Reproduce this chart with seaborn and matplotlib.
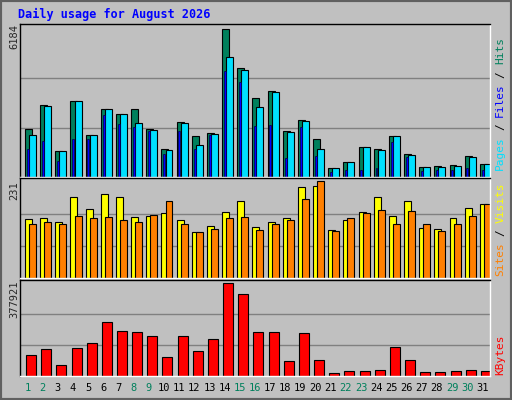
import matplotlib
matplotlib.use("Agg")
import matplotlib.pyplot as plt
import seaborn as sns
import numpy as np
import pandas as pd

days = list(range(1, 32))
weekend = [1, 2, 8, 9, 15, 16, 22, 23, 29, 30]

hits = [2010, 3022, 1082, 3162, 1757, 2853, 2642, 2853, 2010, 1167, 2305, 1715, 1841, 6184, 4540, 3317,
        3584, 1926, 2389, 1588, 365, 618, 1251, 1167, 1715, 956, 408, 450, 492, 871, 534]
files = [1757, 2980, 1082, 3162, 1757, 2853, 2642, 2263, 1968, 1124, 2263, 1335, 1799, 5003, 4497, 2937,
         3542, 1883, 2347, 1167, 365, 618, 1251, 1124, 1715, 914, 408, 408, 450, 829, 534]
pages = [1167, 1504, 661, 1588, 1588, 2600, 2221, 2094, 1926, 956, 1926, 1167, 1757, 4455, 3992, 2136,
         2178, 787, 2094, 871, 197, 281, 281, 365, 1462, 829, 239, 281, 281, 365, 281]
visits = [140, 143, 135, 193, 165, 201, 193, 145, 148, 155, 138, 110, 125, 158, 183, 123,
          133, 143, 218, 221, 115, 138, 158, 193, 148, 183, 120, 118, 143, 168, 178]
sites = [128, 135, 128, 148, 143, 145, 138, 133, 150, 183, 130, 110, 118, 143, 145, 115,
         128, 138, 188, 231, 113, 143, 155, 163, 128, 160, 128, 113, 128, 148, 178]
kbytes = [87000, 108000, 46000, 116000, 133000, 220000, 183000, 179000, 162000, 79000, 162000,
          100000, 150000, 377921, 336000, 179000, 179000, 62000, 174000, 66000, 12000, 21000,
          21000, 25000, 120000, 66000, 17000, 17000, 21000, 25000, 21000]

sns.set_style("white")
plt.rcParams['font.family'] = ['DejaVu Sans Mono']

BG = "#c0c0c0"
fig = plt.figure(figsize=(5.12, 4.0), dpi=100, facecolor=BG)
fig.patches.append(plt.Rectangle((0, 0), 1, 1, transform=fig.transFigure, fill=False,
                                 edgecolor="#606060", linewidth=3))

x = np.arange(31)


def panel(rect, vmax):
    ax = fig.add_axes(rect)
    ax.set_facecolor(BG)
    ax.set_xlim(0, 31)
    ax.set_ylim(0, vmax * 1.035)
    for g in (vmax / 3, vmax * 2 / 3):
        ax.axhline(g, color="#808080", linewidth=1, zorder=0)
    ax.set_xticks([])
    ax.set_yticks([])
    for s in ax.spines.values():
        s.set_color("black")
        s.set_linewidth(1)
    ax.spines['bottom'].set_color("white")
    ax.spines['right'].set_color("white")
    return ax


ax1 = panel([0.039, 0.5575, 0.918, 0.3825], max(hits))
ax1.bar(x + 0.33, hits, width=0.46, align="edge", color="#00805c", edgecolor="black", linewidth=0.8)
ax1.bar(x + 0.6, files, width=0.46, align="edge", color="#00e0ff", edgecolor="black", linewidth=0.8)
ax1.bar(x + 0.45, pages, width=0.13, align="edge", color="#0000ff", edgecolor="#000040", linewidth=0.5)

ax2 = panel([0.039, 0.305, 0.918, 0.25], max(sites))
ax2.bar(x + 0.33, visits, width=0.46, align="edge", color="#ffff00", edgecolor="black", linewidth=0.8)
ax2.bar(x + 0.6, sites, width=0.46, align="edge", color="#ff8000", edgecolor="black", linewidth=0.8)

ax3 = panel([0.039, 0.06, 0.918, 0.24], max(kbytes))
df = pd.DataFrame({"day": x + 0.73, "kbytes": kbytes})
sns.barplot(data=df, x="day", y="kbytes", native_scale=True, width=0.66, color="#ff0000",
            saturation=1, edgecolor="black", linewidth=0.8, ax=ax3)
ax3.set_xlim(0, 31)
ax3.set_xticks([])
ax3.set_xlabel("")
ax3.set_ylabel("")

# max values on the left
fig.text(0.028, 0.94, f"{max(hits)}", rotation=90, ha="center", va="top", fontsize=7.5)
fig.text(0.028, 0.548, f"{max(sites)}", rotation=90, ha="center", va="top", fontsize=7.5)
fig.text(0.028, 0.298, f"{max(kbytes)}", rotation=90, ha="center", va="top", fontsize=7.5)


def side_label(parts, y0):
    # each part starts after the previous one, plus one space
    y = y0
    for txt, col in parts:
        fig.text(0.977, y, txt, rotation=90, ha="center", va="bottom", fontsize=8, color=col)
        y += (len(txt) + 1) * 0.0165


side_label([("Pages", "#00e0ff"), ("/", "#000000"), ("Files", "#0000ff"), ("/", "#000000"),
            ("Hits", "#00805c")], 0.575)
side_label([("Sites", "#ff8000"), ("/", "#000000"), ("Visits", "#ffff00")], 0.31)
side_label([("KBytes", "#ff0000")], 0.062)

for d in days:
    fig.text(0.039 + 0.918 * (d - 0.5) / 31, 0.03, str(d), ha="center", va="center", fontsize=7.5,
             color="#00805c" if d in weekend else "black")

fig.text(0.035, 0.965, "Daily usage for August 2026", ha="left", va="center", fontsize=8.5,
         fontweight="bold", color="#0000ff")

fig.savefig("out.png", dpi=100, facecolor=BG)
